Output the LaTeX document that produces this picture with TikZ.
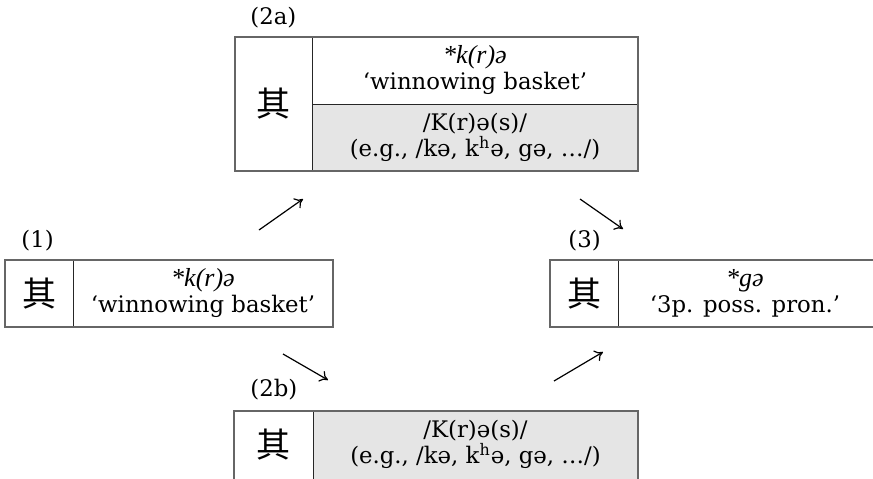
\documentclass[tikz,border=0pt]{standalone}
\usepackage{fontspec}
\setmainfont{DejaVu Serif}
\newfontfamily\cjk{Noto Sans CJK SC}
\newfontfamily\itfont{Liberation Serif}
\newcommand{\recon}[1]{{\itfont\itshape\fontsize{13}{13}\selectfont #1}}
\usetikzlibrary{arrows.meta}
\begin{document}
\begin{tikzpicture}[x=0.5pt,y=-0.5pt,
  outer/.style={draw=black!60, line width=0.7pt},
  inner/.style={draw=black!85, line width=0.5pt},
  shade/.style={fill=black!10},
  txt/.style={font=\fontsize{11.4}{13}\selectfont, align=center, inner sep=0pt},
  lbl/.style={font=\fontsize{11.4}{13}\selectfont, inner sep=0pt, anchor=west},
  hanzi/.style={font=\cjk\fontsize{17}{17}\selectfont, inner sep=0pt},
  conn/.style={-{To[length=4pt,width=6pt]}, line width=0.6pt}]
\useasboundingbox (0,0) rectangle (873,478);
\begin{scope}
\clip (0,0) rectangle (873,478);
% box 2a
\fill[shade] (312,104) rectangle (638,171);
\draw[inner] (312,37) -- (312,171);
\draw[inner] (312,104) -- (638,104);
\draw[outer] (235,37) rectangle (638,171);
% box 1
\draw[inner] (73,260) -- (73,327);
\draw[outer] (5,260) rectangle (333,327);
% box 3 (runs off the right edge)
\draw[inner] (618,260) -- (618,327);
\draw[outer] (550,260) rectangle (878,327);
% box 2b (runs off the bottom edge)
\fill[shade] (313,411) rectangle (638,482);
\draw[inner] (313,411) -- (313,482);
\draw[outer] (234,411) rectangle (638,482);
\end{scope}
% labels
\node[lbl] (l2a) at (250,18) {(2a)};
\node[lbl] (l1) at (21,241) {(1)};
\node[lbl] (l3) at (568,241) {(3)};
\node[lbl] (l2b) at (250,390) {(2b)};
% glyphs
\node[hanzi] (h2a) at (273.5,104) {其};
\node[hanzi] (h1) at (39,293.5) {其};
\node[hanzi] (h3) at (584,293.5) {其};
\node[hanzi] (h2b) at (273.5,444.5) {其};
% texts
\node[txt] (t2a) at (475,70.5) {\recon{*k(r)ə}\\‘winnowing basket’};
\node[txt] (p2a) at (475,137.5) {/K(r)ə(s)/\\(e.g., /kə, k\textsuperscript{h}ə, gə, …/)};
\node[txt] (t1) at (203,293.5) {\recon{*k(r)ə}\\‘winnowing basket’};
\node[txt] (t3) at (745,293.5) {\recon{*gə}\\‘3p. poss. pron.’};
\node[txt] (p2b) at (475.5,444.5) {/K(r)ə(s)/\\(e.g., /kə, k\textsuperscript{h}ə, gə, …/)};
% arrows
\coordinate (a1s) at (259,230); \coordinate (a1e) at (303,199);
\coordinate (a2s) at (580,199); \coordinate (a2e) at (623,229);
\coordinate (a3s) at (283,354); \coordinate (a3e) at (328,380);
\coordinate (a4s) at (554,381); \coordinate (a4e) at (603,352);
\draw[conn] (a1s) -- (a1e);
\draw[conn] (a2s) -- (a2e);
\draw[conn] (a3s) -- (a3e);
\draw[conn] (a4s) -- (a4e);
\end{tikzpicture}
\end{document}
